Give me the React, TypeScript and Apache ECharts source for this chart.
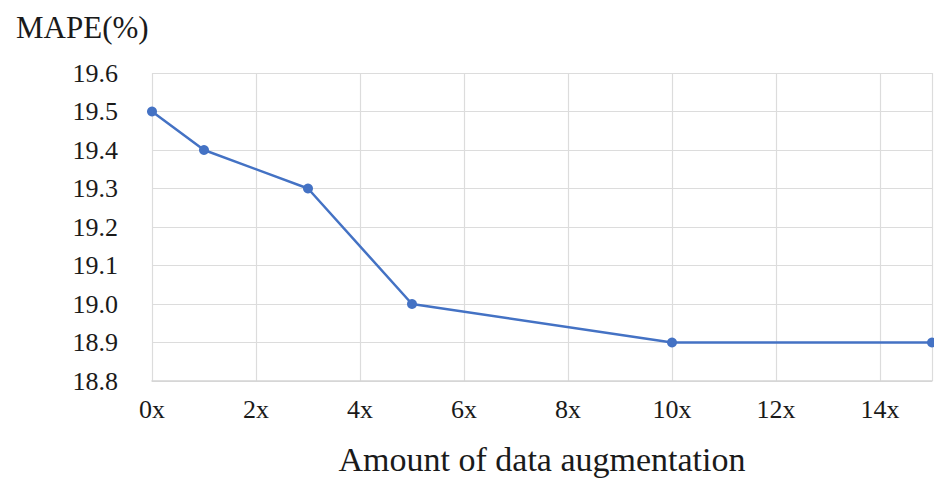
import React, { useEffect, useRef } from "react";
import * as echarts from "echarts";

const xValues = [0, 1, 3, 5, 10, 15];
const mapeValues = [19.5, 19.4, 19.3, 19.0, 18.9, 18.9];
const yAxisTitle = "MAPE(%)";
const xAxisTitle = "Amount of data augmentation";

const FONT = "Liberation Serif, serif";

export default function App() {
  const ref = useRef<HTMLDivElement>(null);
  useEffect(() => {
    if (!ref.current) return;
    const chart = echarts.init(ref.current, undefined, { renderer: "svg" });
    chart.setOption({
      animation: false,
      backgroundColor: "#ffffff",
      title: {
        text: yAxisTitle,
        left: 11,
        top: 7,
        textStyle: { fontFamily: FONT, fontSize: 31, fontWeight: "normal", color: "#1a1a1a" },
      },
      grid: { left: 152, right: 2, top: 73, bottom: 95, containLabel: false },
      xAxis: {
        type: "value",
        min: 0,
        max: 15,
        interval: 2,
        name: xAxisTitle,
        nameLocation: "middle",
        nameGap: 61,
        nameTextStyle: { fontFamily: FONT, fontSize: 34, color: "#1a1a1a" },
        axisLine: { show: true, lineStyle: { color: "#d4d4d4", width: 1.5 } },
        axisTick: { show: false },
        axisLabel: {
          showMaxLabel: false,
          margin: 15,
          fontFamily: FONT,
          fontSize: 26,
          color: "#1a1a1a",
          formatter: (v: number) => `${v}x`,
        },
        splitLine: { show: true, lineStyle: { color: "#dcdcdc", width: 1.2 } },
      },
      yAxis: {
        type: "value",
        min: 18.8,
        max: 19.6,
        interval: 0.1,
        axisLine: { show: false },
        axisTick: { show: false },
        axisLabel: {
          margin: 34,
          fontFamily: FONT,
          fontSize: 26,
          color: "#1a1a1a",
          formatter: (v: number) => v.toFixed(1),
        },
        splitLine: { show: true, lineStyle: { color: "#dcdcdc", width: 1.2 } },
      },
      series: [
        {
          type: "line",
          data: xValues.map((x, i) => [x, mapeValues[i]]),
          symbol: "circle",
          symbolSize: 10,
          clip: false,
          lineStyle: { color: "#4472C4", width: 2.5 },
          itemStyle: { color: "#4472C4" },
        },
      ],
    });
    return () => chart.dispose();
  }, []);
  return (
    <div
      ref={ref}
      style={{ position: "absolute", left: 0, top: 0, width: 934, height: 481 }}
    />
  );
}
